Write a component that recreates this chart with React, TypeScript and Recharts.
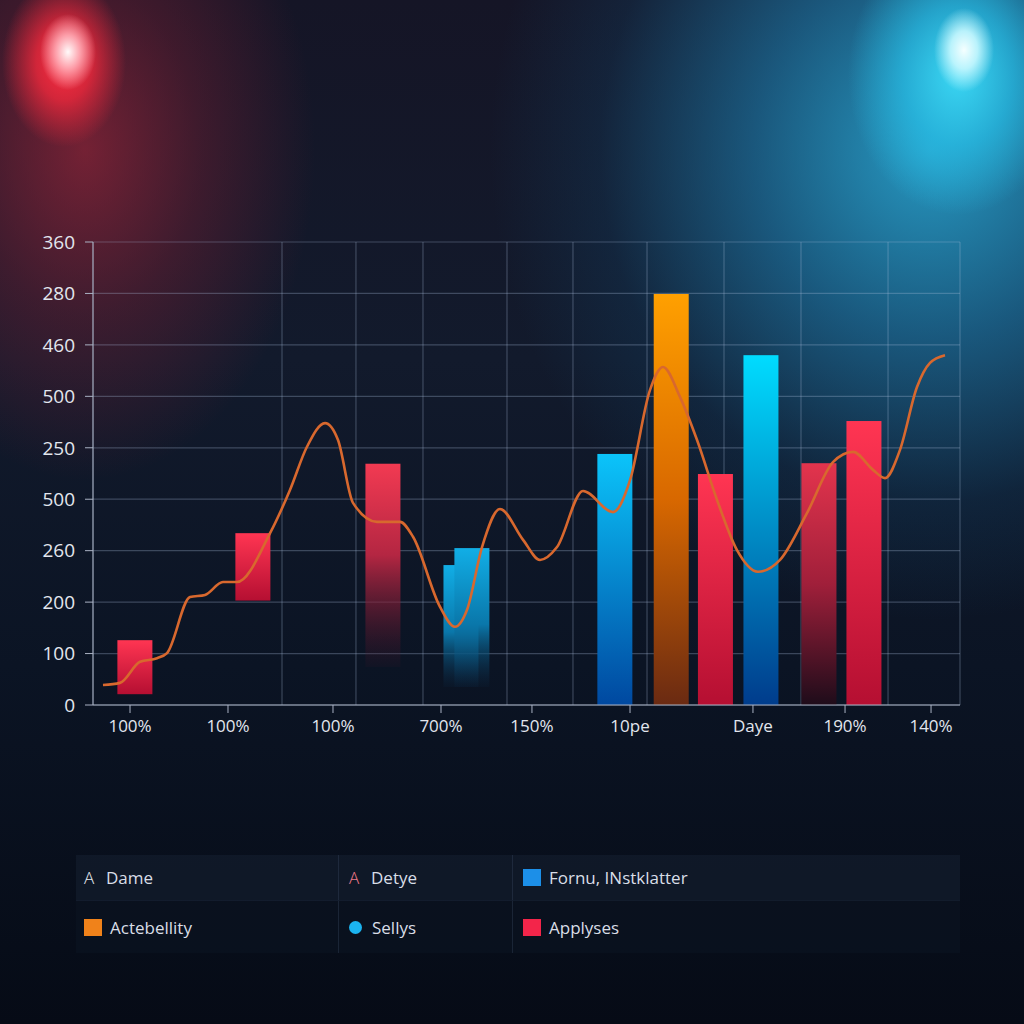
import React from "react";
import { ComposedChart, Bar, Line, XAxis, YAxis, CartesianGrid } from "recharts";

// ---------- data ----------
const yTickLabels = ["0", "100", "200", "260", "500", "250", "500", "460", "280", "360"];
const yTickValues = [0, 1, 2, 3, 4, 5, 6, 7, 8, 9];

const xTickValues = [4.27, 15.57, 27.68, 40.14, 50.63, 61.94, 76.12, 86.74, 96.66];
const xTickLabels = ["100%", "100%", "100%", "700%", "150%", "10pe", "Daye", "190%", "140%"];

const gridXValues = [21.8, 30.33, 38.06, 47.75, 55.36, 63.9, 72.78, 81.66, 91.7, 100];

const barX = [4.84, 18.45, 33.45, 42.45, 43.71, 60.2, 66.7, 71.8, 77.05, 83.74, 88.93];
const barLow = [0.21, 2.03, 0.74, 0.35, 0.35, 0, 0, 0, 0, 0, 0];
const barHigh = [1.26, 3.34, 4.69, 2.72, 3.05, 4.88, 7.99, 4.49, 6.8, 4.7, 5.52];
const barSeries = [
  "Applyses", "Applyses", "Applyses", "Sellys", "Sellys",
  "Fornu, INstklatter", "Actebellity", "Applyses", "Fornu, INstklatter", "Applyses", "Applyses",
];

const lineX = [
  1.15, 3.11, 5.42, 7.38, 8.54, 11.19, 12.92, 14.99, 16.61, 20.42, 22.72, 24.68, 26.76, 28.26,
  29.99, 32.76, 35.41, 36.91, 40.02, 41.75, 43.14, 44.87, 46.94, 49.6, 51.56, 53.52, 56.52,
  59.98, 61.94, 64.24, 65.74, 67.7, 69.67, 71.97, 74.28, 76.7, 79.24, 82.35, 85.35, 87.66,
  89.97, 91.35, 93.08, 95.04, 96.54, 98.27,
];
const lineY = [
  0.39, 0.43, 0.84, 0.91, 1.01, 2.1, 2.14, 2.39, 2.39, 3.34, 4.18, 5.02, 5.48, 5.15,
  3.93, 3.56, 3.56, 3.27, 1.91, 1.52, 1.85, 3.07, 3.81, 3.21, 2.82, 3.07, 4.16,
  3.75, 4.37, 6.12, 6.57, 5.99, 5.15, 3.99, 3.01, 2.59, 2.82, 3.73, 4.72, 4.92,
  4.57, 4.41, 4.96, 6.18, 6.65, 6.8,
];

const legendLabels = ["Dame", "Detye", "Fornu, INstklatter", "Actebellity", "Sellys", "Applyses"];

// ---------- styles ----------
const BAR_W = 35;
const barFillIds = ["gRed", "gRed", "gRedFade", "gBlueFade", "gBlueFade", "gBlue", "gOrange", "gRed", "gBlue2", "gRedDark", "gRed"];
const legendIcons = [
  { kind: "A", color: "#e6eaf0" },
  { kind: "A", color: "#f07a8a" },
  { kind: "square", color: "#1c8fe8" },
  { kind: "square", color: "#f0821a" },
  { kind: "circle", color: "#1bb4f0" },
  { kind: "square", color: "#f3254a" },
];

const FONT = "'Open Sans', 'Noto Sans', sans-serif";

const barData = barX.map((x, i) => ({ x, range: [barLow[i], barHigh[i]], series: barSeries[i] }));
const lineData = lineX.map((x, i) => ({ x, v: lineY[i] }));

function BarShape(props: any) {
  const { x, y, width, height, index } = props;
  if (height == null || isNaN(height)) return null;
  const cx = x + width / 2;
  const top = height < 0 ? y + height : y;
  const h = Math.abs(height);
  return <rect x={cx - BAR_W / 2} y={top} width={BAR_W} height={h} fill={`url(#${barFillIds[index]})`} />;
}

function LegendIcon({ kind, color }: { kind: string; color: string }) {
  if (kind === "A")
    return <span style={{ color, fontSize: 17, width: 22, display: "inline-block", fontWeight: 300 }}>A</span>;
  if (kind === "circle")
    return <span style={{ display: "inline-block", width: 13, height: 13, borderRadius: 7, background: color, marginRight: 10 }} />;
  return <span style={{ display: "inline-block", width: 18, height: 17, background: color, marginRight: 8 }} />;
}

export default function App() {
  const bg = [
    "radial-gradient(ellipse 28px 38px at 68px 52px, rgba(255,250,250,1) 0%, rgba(255,170,180,0.9) 45%, rgba(255,60,80,0) 100%)",
    "radial-gradient(ellipse 62px 85px at 64px 62px, rgba(255,45,65,1) 0%, rgba(240,40,60,0.8) 45%, rgba(200,30,50,0) 100%)",
    "radial-gradient(ellipse 230px 330px at 85px 150px, rgba(180,40,60,0.6) 0%, rgba(125,32,52,0.4) 50%, rgba(60,20,40,0) 100%)",
    "radial-gradient(ellipse 30px 42px at 964px 50px, rgba(245,255,255,1) 0%, rgba(200,248,255,0.9) 45%, rgba(80,220,255,0) 100%)",
    "radial-gradient(ellipse 110px 140px at 958px 75px, rgba(60,220,248,0.95) 0%, rgba(40,195,235,0.65) 50%, rgba(30,150,210,0) 100%)",
    "radial-gradient(ellipse 440px 470px at 930px 150px, rgba(42,175,220,0.85) 0%, rgba(30,130,180,0.6) 40%, rgba(18,75,115,0.25) 75%, rgba(15,60,100,0) 100%)",
    "linear-gradient(180deg, #151526 0%, #121a2c 35%, #0b1424 65%, #060b16 100%)",
  ].join(",");

  return (
    <div style={{ position: "fixed", left: 0, top: 0, width: 1024, height: 1024, background: bg, fontFamily: FONT, overflow: "hidden" }}>
      <ComposedChart
        width={1024}
        height={1024}
        data={barData}
        margin={{ top: 242, right: 64, bottom: 289, left: 0 }}
        style={{ position: "absolute", left: 0, top: 0 }}
      >
        <defs>
          <linearGradient id="gRed" x1="0" y1="0" x2="0" y2="1">
            <stop offset="0%" stopColor="#ff3552" />
            <stop offset="100%" stopColor="#b50f32" />
          </linearGradient>
          <linearGradient id="gRedFade" x1="0" y1="0" x2="0" y2="1">
            <stop offset="0%" stopColor="#f23a52" />
            <stop offset="45%" stopColor="#b42642" />
            <stop offset="100%" stopColor="#4a1428" stopOpacity={0.1} />
          </linearGradient>
          <linearGradient id="gRedDark" x1="0" y1="0" x2="0" y2="1">
            <stop offset="0%" stopColor="#e3344d" />
            <stop offset="50%" stopColor="#a01f3a" />
            <stop offset="100%" stopColor="#1e0c1a" />
          </linearGradient>
          <linearGradient id="gBlue" x1="0" y1="0" x2="0" y2="1">
            <stop offset="0%" stopColor="#0bc4fa" />
            <stop offset="100%" stopColor="#0048a0" />
          </linearGradient>
          <linearGradient id="gBlue2" x1="0" y1="0" x2="0" y2="1">
            <stop offset="0%" stopColor="#00dcff" />
            <stop offset="100%" stopColor="#003c8c" />
          </linearGradient>
          <linearGradient id="gBlueFade" x1="0" y1="0" x2="0" y2="1">
            <stop offset="0%" stopColor="#11aee6" />
            <stop offset="55%" stopColor="#0a77aa" />
            <stop offset="100%" stopColor="#0a3050" stopOpacity={0.1} />
          </linearGradient>
          <linearGradient id="gOrange" x1="0" y1="0" x2="0" y2="1">
            <stop offset="0%" stopColor="#ffa000" />
            <stop offset="50%" stopColor="#d86800" />
            <stop offset="100%" stopColor="#6a2a12" />
          </linearGradient>
        </defs>
        <CartesianGrid xAxisId="grid" stroke="rgba(170,190,220,0.3)" strokeWidth={1.2} />
        <XAxis xAxisId="grid" type="number" dataKey="x" domain={[0, 100]} ticks={gridXValues} hide />
        <XAxis
          type="number"
          dataKey="x"
          domain={[0, 100]}
          ticks={xTickValues}
          interval={0}
          tickFormatter={(_v: number, i: number) => xTickLabels[i]}
          height={30}
          tickSize={8}
          tickMargin={7}
          stroke="#aab2c4"
          tick={{ fill: "#e2e6ee", fontSize: 17, fontFamily: FONT }}
        />
        <YAxis
          type="number"
          domain={[0, 9]}
          ticks={yTickValues}
          interval={0}
          tickFormatter={(v: number) => yTickLabels[v]}
          width={93}
          tickSize={8}
          tickMargin={10}
          stroke="#aab2c4"
          tick={{ fill: "#e2e6ee", fontSize: 19, fontFamily: FONT }}
        />
        <Bar dataKey="range" barSize={BAR_W} shape={<BarShape />} isAnimationActive={false} />
        <Line
          data={lineData}
          dataKey="v"
          type="monotone"
          stroke="#d8682e"
          strokeWidth={2.6}
          dot={false}
          activeDot={false}
          isAnimationActive={false}
        />
      </ComposedChart>

      <div
        style={{
          position: "absolute",
          left: 76,
          top: 855,
          width: 884,
          height: 98,
          display: "grid",
          gridTemplateColumns: "263px 174px 447px",
          gridTemplateRows: "45px 53px",
          color: "#d9dee7",
          fontSize: 17,
        }}
      >
        {legendLabels.map((label, i) => {
          const row = Math.floor(i / 3);
          const col = i % 3;
          return (
            <div
              key={i}
              style={{
                display: "flex",
                alignItems: "center",
                paddingLeft: col === 0 ? 8 : 10,
                background: row === 0 ? "rgba(22,32,50,0.55)" : "rgba(12,20,34,0.6)",
                borderRight: col < 2 ? "1px solid rgba(60,75,100,0.35)" : "none",
                borderTop: row === 1 ? "1px solid rgba(40,55,80,0.3)" : "none",
              }}
            >
              <LegendIcon kind={legendIcons[i].kind} color={legendIcons[i].color} />
              <span>{label}</span>
            </div>
          );
        })}
      </div>
    </div>
  );
}
